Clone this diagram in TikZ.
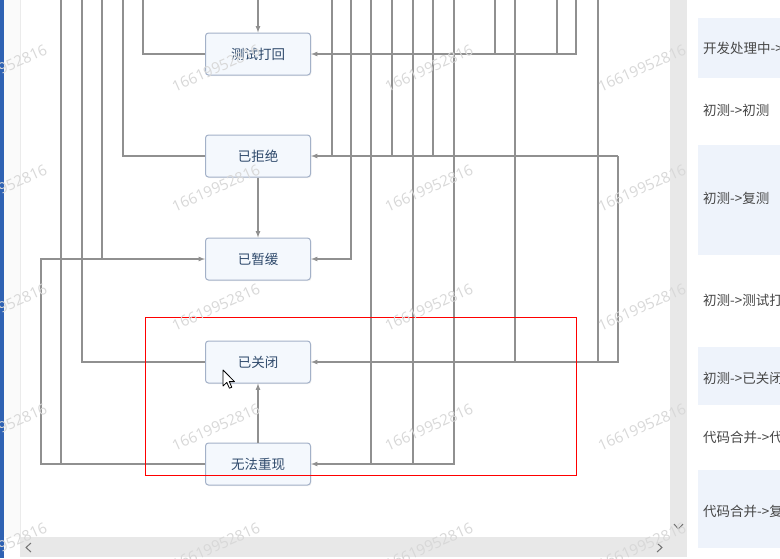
\documentclass[tikz,border=0pt]{standalone}
\usepackage{fontspec}
\setmainfont{Noto Sans CJK SC}
\newfontfamily\wmfont{Open Sans}
\usepackage{tikz}
\usetikzlibrary{calc,arrows,shadows}

\definecolor{boxline}{HTML}{A3B1C8}
\definecolor{boxfill}{HTML}{F4F8FD}
\definecolor{boxtext}{HTML}{2F4A6C}
\definecolor{wirecol}{HTML}{909090}
\definecolor{rowblue}{HTML}{EEF3FB}
\definecolor{barcol}{HTML}{E8E8E8}
\definecolor{winblue}{HTML}{2F62B3}
\definecolor{markcol}{HTML}{D8D8D8}

\begin{document}
\begin{tikzpicture}[x=1pt,y=-1pt,
    state/.style={rectangle,rounded corners=3pt,draw=boxline,fill=boxfill,line width=1pt,
      minimum width=105pt,minimum height=42pt,inner sep=0pt,text=boxtext,
      font=\fontsize{13.5}{16}\selectfont,
      drop shadow={shadow xshift=0.8pt,shadow yshift=-1.2pt,fill=black!10}},
    wire/.style={draw=wirecol,line width=1.2pt},
    arr/.style={wire,-latex},
    rowtxt/.style={anchor=west,inner sep=0pt,text=black!72,font=\fontsize{13.5}{15}\selectfont},
    wmark/.style={inner sep=0pt,text=markcol,rotate=24,font=\wmfont\fontsize{15}{17}\selectfont}]
                      \useasboundingbox (0,0) rectangle (780,558);
                      \clip (0,0) rectangle (780,558);
                      \fill[white] (0,0) rectangle (780,558);
                      \fill[winblue] (0,0) rectangle (4,558);
                      \fill[black!2] (4,0) rectangle (20,537);
                      \draw[black!8,line width=0.8pt] (20,0) -- (20,537);
                      \fill[barcol] (20,537) rectangle (670,557);
                      \fill[barcol] (670,0) rectangle (687,557);
                      \draw[black!55,line width=1pt] (31,543) -- (26,547.5) -- (31,552);
                      \draw[black!55,line width=1pt] (657,543) -- (662,547.5) -- (657,552);
                      \draw[black!55,line width=1pt] (674,524) -- (678.5,529) -- (683,524);

                      \fill[rowblue] (698,18) rectangle (780,78);
                      \fill[rowblue] (698,145) rectangle (780,255);
                      \fill[rowblue] (698,347) rectangle (780,405);
                      \fill[rowblue] (698,470) rectangle (780,548);
                      \node[rowtxt] (r1) at (703,48) {开发处理中->};
                      \node[rowtxt] (r2) at (703,110) {初测->初测};
                      \node[rowtxt] (r3) at (703,198) {初测->复测};
                      \node[rowtxt] (r4) at (703,300) {初测->测试打};
                      \node[rowtxt] (r5) at (703,378) {初测->已关闭};
                      \node[rowtxt] (r6) at (703,437) {代码合并->代};
                      \node[rowtxt] (r7) at (703,511) {代码合并->复};

                      \coordinate (lft) at (41,0);
                      \coordinate (rgt) at (618,0);
                      \coordinate (t61) at (61,0);
                      \coordinate (t82) at (82,0);
                      \coordinate (t102) at (102,0);
                      \coordinate (t123) at (123,0);
                      \coordinate (t143) at (143,0);
                      \coordinate (t258) at (258,0);
                      \coordinate (t332) at (332,0);
                      \coordinate (t351) at (351,0);
                      \coordinate (t371) at (371,0);
                      \coordinate (t392) at (392,0);
                      \coordinate (t413) at (413,0);
                      \coordinate (t433) at (433,0);
                      \coordinate (t454) at (454,0);
                      \coordinate (t495) at (495,0);
                      \coordinate (t515) at (515,0);
                      \coordinate (t557) at (557,0);
                      \coordinate (t576) at (576,0);
                      \coordinate (t598) at (598,0);

                      \node[state] (hui) at (258,54) {测试打回};
                      \node[state] (jujue) at (258,156) {已拒绝};
                      \node[state] (zanhuan) at (258,259) {已暂缓};
                      \node[state] (guanbi) at (258,362) {已关闭};
                      \node[state] (wufa) at (258,464) {无法重现};

                      \draw[arr] (t258) -- (hui);
                      \draw[wire] (hui.west) -| (t143);
                      \draw[arr] (t576) |- (hui.east);
                      \draw[wire] (t495) -- (t495 |- hui.east);
                      \draw[wire] (t557) -- (t557 |- hui.east);
                      \draw[wire] (jujue.west) -| (t123);
                      \draw[arr] (rgt |- jujue.east) -- (jujue.east);
                      \draw[wire] (t332) -- (t332 |- jujue.east);
                      \draw[wire] (t392) -- (t392 |- jujue.east);
                      \draw[wire] (t433) -- (t433 |- jujue.east);
                      \draw[arr] (jujue) -- (zanhuan);
                      \draw[arr] (t351) |- (zanhuan.east);
                      \draw[arr] (wufa.west) -| (lft |- zanhuan.west) -- (zanhuan.west);
                      \draw[wire] (t102) -- (t102 |- zanhuan.west);
                      \draw[wire] (t61) -- (t61 |- wufa.west);
                      \draw[wire] (guanbi.west) -| (t82);
                      \draw[arr] (rgt |- jujue.east) |- (guanbi.east);
                      \draw[wire] (t515) -- (t515 |- guanbi.east);
                      \draw[wire] (t598) -- (t598 |- guanbi.east);
                      \draw[arr] (t454) |- (wufa.east);
                      \draw[wire] (t371) -- (t371 |- wufa.east);
                      \draw[wire] (t413) -- (t413 |- wufa.east);
                      \draw[arr] (wufa) -- (guanbi);

                      \draw[red,line width=1pt] (145,317) rectangle (576,475);
                      \filldraw[fill=white,draw=black,line width=0.8pt,line join=round] (223,370) -- ++(0,16) -- ++(3.8,-3.6) -- ++(2.6,5.8) -- ++(2.4,-1) -- ++(-2.5,-5.6) -- ++(5.2,0) -- cycle;

                      \foreach \x in {3,216,429,642}
                        \foreach \y in {68,188,307,427,546}
                          \node[wmark] (w\x-\y) at (\x,\y) {16619952816};
                  \end{tikzpicture}
\end{document}
